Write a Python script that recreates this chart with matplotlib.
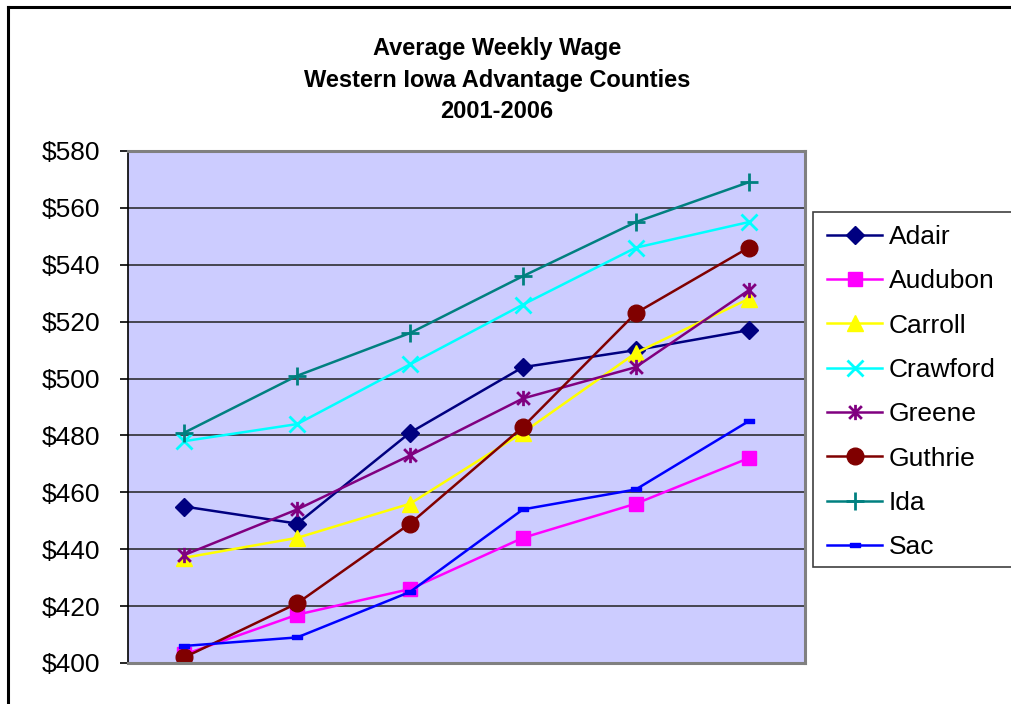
import matplotlib.pyplot as plt
import numpy as np
from matplotlib.path import Path
from matplotlib.patches import Rectangle
from matplotlib.lines import Line2D

plt.rcParams['font.family'] = ['Liberation Sans', 'DejaVu Sans']

#%% Data
years = ['2001', '2002', '2003', '2004', '2005', '2006']
adair = [455, 449, 481, 504, 510, 517]
audubon = [403, 417, 426, 444, 456, 472]
carroll = [437, 444, 456, 481, 509, 528]
crawford = [478, 484, 505, 526, 546, 555]
greene = [438, 454, 473, 493, 504, 531]
guthrie = [402, 421, 449, 483, 523, 546]
ida = [481, 501, 516, 536, 555, 569]
sac = [406, 409, 425, 454, 461, 485]

counties = ['Adair', 'Audubon', 'Carroll', 'Crawford', 'Greene', 'Guthrie', 'Ida', 'Sac']
series = [adair, audubon, carroll, crawford, greene, guthrie, ida, sac]
y_ticks = [400, 420, 440, 460, 480, 500, 520, 540, 560, 580]

#%% Marker shapes (Excel style asterisk and short dash)
asterisk = Path([(-1, -1), (1, 1), (-1, 1), (1, -1), (0, -1.2), (0, 1.2)],
                [Path.MOVETO, Path.LINETO, Path.MOVETO, Path.LINETO, Path.MOVETO, Path.LINETO])
dash = Path([(-1, -0.45), (1, -0.45), (1, 0.45), (-1, 0.45), (-1, -0.45)],
            [Path.MOVETO, Path.LINETO, Path.LINETO, Path.LINETO, Path.CLOSEPOLY])

styles = [
    dict(color='#000080', marker='D', ms=9),
    dict(color='#FF00FF', marker='s', ms=10),
    dict(color='#FFFF00', marker='^', ms=12),
    dict(color='#00FFFF', marker='x', ms=11, mew=2),
    dict(color='#800080', marker=asterisk, ms=11, mew=2),
    dict(color='#800000', marker='o', ms=12),
    dict(color='#008080', marker='+', ms=13, mew=2),
    dict(color='#0000FF', marker=dash, ms=7),
]

#%% Figure
fig = plt.figure(figsize=(10.11, 7.04), dpi=100)
W, H = 1011, 704

# outer chart border (cropped: only top and left visible)
fig.add_artist(Line2D([8 / W, 8 / W], [0, 1 - 7 / H], color='black', lw=2.2))
fig.add_artist(Line2D([8 / W, 1], [1 - 7 / H, 1 - 7 / H], color='black', lw=2.2))

ax = fig.add_axes([128 / W, 1 - 663 / H, (805 - 128) / W, (663 - 151) / H])
ax.set_facecolor('#CCCCFF')

x = np.arange(len(years))
for name, vals, st in zip(counties, series, styles):
    ax.plot(x, vals, label=name, lw=1.8, color=st['color'], marker=st['marker'],
            markersize=st['ms'], markeredgewidth=st.get('mew', 1),
            markeredgecolor=st['color'], markerfacecolor=st['color'])

ax.set_xlim(-0.5, len(years) - 0.5)
ax.set_ylim(400, 580)
ax.set_yticks(y_ticks)
ax.set_yticklabels(['$' + str(v) for v in y_ticks])
ax.set_xticks([])
ax.yaxis.grid(True, color='#202020', lw=1.1)
ax.set_axisbelow(True)
ax.tick_params(axis='y', labelsize=19, length=6, width=1.2, pad=14, direction='out')

for side in ['top', 'right', 'bottom']:
    ax.spines[side].set_color('#808080')
    ax.spines[side].set_linewidth(2.2)
ax.spines['left'].set_color('black')
ax.spines['left'].set_linewidth(1.2)

# title
title_lines = ['Average Weekly Wage', 'Western Iowa Advantage Counties', '2001-2006']
for i, t in enumerate(title_lines):
    fig.text(497 / W, 1 - (49 + 31 * i) / H, t, ha='center', va='center',
             fontsize=17, fontweight='bold')

# legend with box running off the right edge
fig.add_artist(Rectangle((813 / W, 1 - 567 / H), 0.3, (567 - 212) / H,
                         transform=fig.transFigure, facecolor='white',
                         edgecolor='#404040', lw=1.2))
leg = fig.legend(loc='upper left', bbox_to_anchor=(827 / W, 1 - 225 / H),
                 frameon=False, fontsize=19, handlelength=2.1,
                 handletextpad=0.25, labelspacing=0.77, borderpad=0,
                 borderaxespad=0)

fig.savefig('out.png', dpi=100)
